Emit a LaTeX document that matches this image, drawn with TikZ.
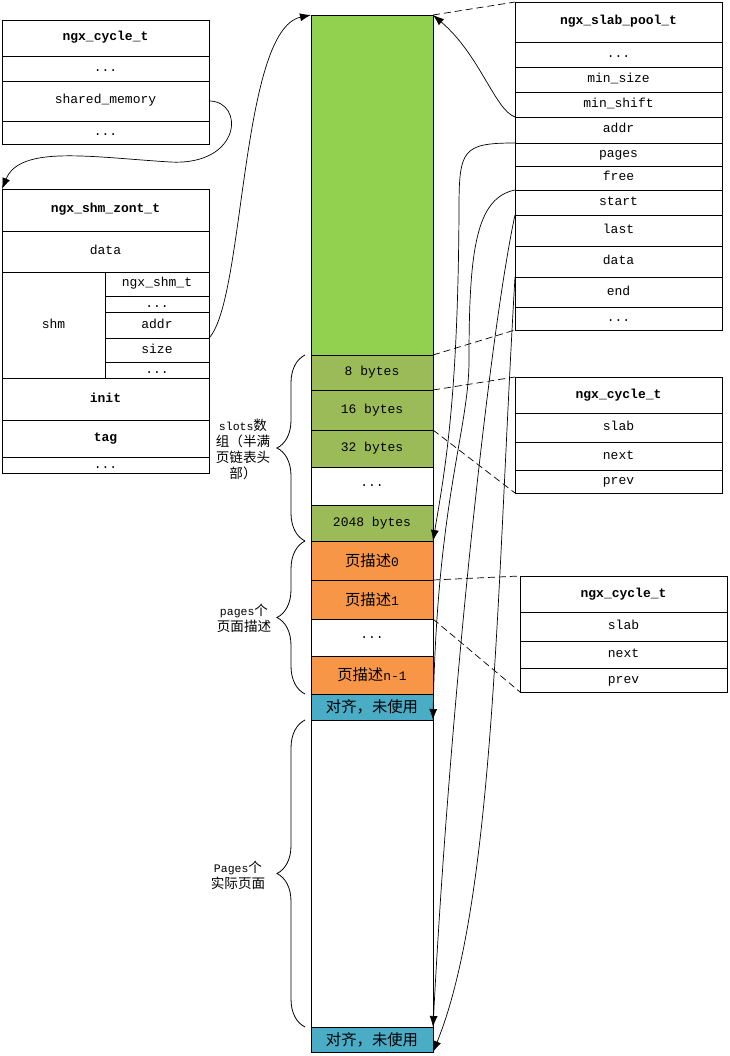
\documentclass[tikz,border=0pt]{standalone}
\usepackage{fontspec}
\setmainfont{Liberation Mono}
\newfontfamily\cjk{Noto Sans CJK SC}[Scale=1.18]
\usetikzlibrary{
	arrows.meta,
	positioning,
	calc,
	decorations.pathreplacing
}
\definecolor{heapgreen}{HTML}{92D050}
\definecolor{slotgreen}{HTML}{9BBB59}
\definecolor{pageorange}{HTML}{F79646}
\definecolor{padblue}{HTML}{4BACC6}
\newcommand{\dotsrow}{...}
\tikzset{
	fld/.style={draw, line width=0.8pt, outer sep=0pt, inner sep=0pt, minimum width=207pt, text height=8pt, text depth=2pt, font=\fontsize{13}{15}\selectfont},
	ttl/.style={fld, font=\fontsize{13}{15}\selectfont\bfseries},
	blk/.style={draw, line width=0.8pt, outer sep=0pt, inner sep=0pt, minimum width=122pt, font=\fontsize{13}{15}\selectfont},
	lead/.style={line width=0.7pt, dash pattern=on 7pt off 4pt},
	ptr/.style={line width=0.7pt, -{Latex[length=11pt, width=8pt]}},
	brc/.style={decorate, decoration={brace, amplitude=28pt}, line width=0.8pt},
	lbl/.style={align=center, font=\fontsize{11.5}{16}\selectfont}
}
\begin{document}
\begin{tikzpicture}[x=1pt, y=-1pt]
	\useasboundingbox (0,0) rectangle (729,1056);

		\node[ttl, minimum height=36pt] (cycT) at (105.5,38) {ngx\_cycle\_t};
		\foreach \n/\h/\txt [remember=\n as \p (initially cycT)] in {cycA/25pt/\dotsrow, cycMem/40pt/shared\_memory, cycB/23pt/\dotsrow} {
		\node[fld, minimum height=\h, below=0pt of \p] (\n) {\txt};
		}

		\node[ttl, minimum height=42pt] (zT) at (105.5,210) {ngx\_shm\_zont\_t};
		\node[fld, minimum height=41pt, below=0pt of zT] (zData) {data};
		\node[fld, minimum width=103pt, minimum height=106pt, anchor=north west] (zShm) at (zData.south west) {shm};
		\node[fld, minimum width=104pt, minimum height=24pt, anchor=north west] (zShmT) at (zShm.north east) {ngx\_shm\_t};
		\foreach \n/\h/\txt [remember=\n as \p (initially zShmT)] in {zDotA/16pt/\dotsrow, zAddr/26pt/addr, zSize/24pt/size, zDotB/16pt/\dotsrow} {
		\node[fld, minimum width=104pt, minimum height=\h, below=0pt of \p] (\n) {\txt};
		}
		\node[ttl, minimum height=42pt, anchor=north west] (zInit) at (zShm.south west) {init};
		\node[ttl, minimum height=37pt, below=0pt of zInit] (zTag) {tag};
		\node[fld, minimum height=16pt, below=0pt of zTag] (zDotC) {\dotsrow};

		\node[ttl, minimum height=40pt] (pT) at (618.5,22) {ngx\_slab\_pool\_t};
		\foreach \n/\h/\txt [remember=\n as \p (initially pT)] in {pDotA/25pt/\dotsrow, pMinSize/25pt/min\_size, pMinShift/25pt/min\_shift, pAddr/26pt/addr, pPages/23pt/pages, pFree/24pt/free, pStart/25pt/start, pLast/31pt/last, pData/31pt/data, pEnd/30pt/end, pDotB/23pt/\dotsrow} {
		\node[fld, minimum height=\h, below=0pt of \p] (\n) {\txt};
		}

		\node[ttl, minimum height=36pt] (aT) at (618.5,395) {ngx\_cycle\_t};
		\foreach \n/\h/\txt [remember=\n as \p (initially aT)] in {aSlab/29pt/slab, aNext/28pt/next, aPrev/23pt/prev} {
		\node[fld, minimum height=\h, below=0pt of \p] (\n) {\txt};
		}
		\node[ttl, minimum height=36pt] (bT) at (623.5,594) {ngx\_cycle\_t};
		\foreach \n/\h/\txt [remember=\n as \p (initially bT)] in {bSlab/29pt/slab, bNext/27pt/next, bPrev/24pt/prev} {
		\node[fld, minimum height=\h, below=0pt of \p] (\n) {\txt};
		}

		\node[blk, fill=heapgreen, minimum height=340pt] (heap) at (372,185) {};
		\foreach \n/\h/\c/\txt [remember=\n as \p (initially heap)] in {s8/35pt/slotgreen/8 bytes, s16/40pt/slotgreen/16 bytes, s32/37pt/slotgreen/32 bytes, sDot/38pt/white/\dotsrow, s2048/36pt/slotgreen/2048 bytes, pd0/39pt/pageorange/{\cjk 页描述}0, pd1/39pt/pageorange/{\cjk 页描述}1, pdDot/37pt/white/\dotsrow, pdN/38pt/pageorange/{\cjk 页描述}n-1, padA/26pt/padblue/{\cjk 对齐，未使用}, pgs/307pt/white/{}, padB/25pt/padblue/{\cjk 对齐，未使用}} {
		\node[blk, fill=\c, minimum height=\h, below=0pt of \p] (\n) {\txt};
		}

		\draw[brc] ($(s2048.south west)+(-6,0)$) -- ($(s8.north west)+(-6,0)$);
		\draw[brc] ($(pdN.south west)+(-6,0)$) -- ($(pd0.north west)+(-6,0)$);
		\draw[brc] ($(pgs.south west)+(-6,0)$) -- ($(pgs.north west)+(-6,0)$);

		\node[lbl] (slotsL) at (243,449) {slots{\cjk 数}\\{\cjk 组（半满}\\{\cjk 页链表头}\\{\cjk 部）}};
		\node[lbl] (pagesL) at (244,618) {pages{\cjk 个}\\{\cjk 页面描述}};
		\node[lbl] (realL) at (238,875) {Pages{\cjk 个}\\{\cjk 实际页面}};

		\draw[ptr] (cycMem.east) .. controls (245,101) and (242,166) .. (170,162) .. controls (90,157) and (20,145) .. (zT.north west);
		\draw[ptr] (zAddr.south east) .. controls (245,300) and (240,30) .. (heap.north west);
		\draw[ptr] (pMinShift.south west) .. controls (495,110) and (480,55) .. (heap.north east);
		\draw[ptr] (pPages.north west) .. controls (462,143) and (459,150) .. (459,210) .. controls (458,400) and (445,470) .. (s2048.south east);
		\draw[ptr] (pStart.north west) .. controls (476,198) and (469,250) .. (469,360) .. controls (469,430) and (437,500) .. (padA.south east);
		\draw[ptr] (pLast.north west) .. controls (490,330) and (450,700) .. (padB.north east);
		\draw[ptr] (pEnd.north west) .. controls (497,580) and (495,900) .. (padB.south east);

		\draw[lead] (heap.north east) -- (pT.north west);
		\draw[lead] (s8.north east) -- (pDotB.south west);
		\draw[lead] (s16.north east) -- (aT.north west);
		\draw[lead] (s32.north east) -- (aPrev.south west);
		\draw[lead] (pd1.north east) -- (bT.north west);
		\draw[lead] (pdDot.north east) -- (bPrev.south west);
	\end{tikzpicture}
\end{document}
